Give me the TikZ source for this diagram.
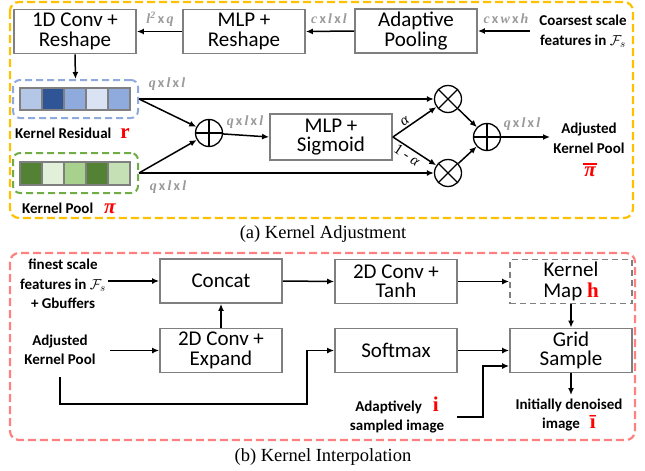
\documentclass[tikz,border=0pt]{standalone}
\usepackage{fontspec}
\setmainfont{Carlito}
\newfontfamily\serif{Liberation Serif}
\usetikzlibrary{arrows.meta,calc}

\definecolor{boxgray}{HTML}{7F7F7F}
\definecolor{labgray}{HTML}{9A9A9A}
\definecolor{frameorange}{HTML}{FFC000}
\definecolor{framered}{HTML}{FF8080}
\definecolor{resblue}{HTML}{8FAADC}
\definecolor{poolgreen}{HTML}{70AD47}
\definecolor{kbA}{HTML}{B4C7E7}
\definecolor{kbB}{HTML}{2F5597}
\definecolor{kbC}{HTML}{8FAADC}
\definecolor{kbD}{HTML}{DAE3F3}
\definecolor{kbE}{HTML}{8FAADC}
\definecolor{kgA}{HTML}{548235}
\definecolor{kgB}{HTML}{E2F0D9}
\definecolor{kgC}{HTML}{A9D18E}
\definecolor{kgD}{HTML}{548235}
\definecolor{kgE}{HTML}{C5E0B4}

% upright bold "x" between the dimension letters
\newcommand{\xx}{\hspace{2.2pt}{\rmfamily\upshape\bfseries x}\hspace{2.2pt}}
% bold red serif symbol
\newcommand{\redl}[1]{{\color{red}\serif\bfseries\fontsize{21}{21}\selectfont #1}}

\tikzset{
  box/.style={draw=boxgray, line width=1.8pt, fill=white, minimum width=122pt,
    minimum height=44pt, inner sep=0pt, align=center,
    font=\fontsize{21}{19.5}\selectfont},
  lbl/.style={font=\bfseries\fontsize{15}{19.5}\selectfont, align=center, inner sep=0pt},
  dim/.style={text=labgray, font=\serif\bfseries\itshape\fontsize{14}{14}\selectfont, inner sep=0pt},
  arr/.style={draw, line width=1.5pt, -{Latex[length=7pt,width=6pt]}},
  opbase/.style={circle, draw, line width=1.3pt, minimum size=27pt, inner sep=0pt},
  times/.style={opbase, path picture={
      \draw[line width=1.2pt] (path picture bounding box.north west) -- (path picture bounding box.south east);
      \draw[line width=1.2pt] (path picture bounding box.north east) -- (path picture bounding box.south west);}},
  plus/.style={opbase, path picture={
      \draw[line width=1.2pt] (path picture bounding box.north) -- (path picture bounding box.south);
      \draw[line width=1.2pt] (path picture bounding box.west) -- (path picture bounding box.east);}},
  kbox/.style={draw=#1, dashed, dash pattern=on 7pt off 4pt, line width=2pt,
    rounded corners=7pt, minimum width=125pt, inner sep=0pt},
  frame/.style={draw=#1, line width=2.2pt, dash pattern=on 8pt off 4pt, rounded corners=9pt},
  caption/.style={font=\serif\fontsize{18.5}{18.5}\selectfont, inner sep=0pt},
  greek/.style={font=\serif\fontsize{15}{15}\selectfont, inner sep=0pt}
}

\begin{document}
\begin{tikzpicture}[x=1pt,y=-1pt]
\useasboundingbox (0,0) rectangle (645,471);

% ---------------- (a) Kernel Adjustment ----------------
\draw[frame=frameorange] (10,2) rectangle (633,218);

\node[box] (conv1) at (75,31.5) {1D Conv +\\Reshape};
\node[box] (mlp1) at (244,31.5) {MLP +\\Reshape};
\node[box] (pool) at (416,31) {Adaptive\\Pooling};
\node[lbl, font=\bfseries\fontsize{15}{20}\selectfont] (coarse) at (583,31) {Coarsest scale\\features in $\mathcal{F}_s$};
\coordinate (coarseout) at (530,31);

\draw[arr] (coarseout) -- (pool.east);
\draw[arr] (pool.west) -- (mlp1.east);
\draw[arr] (mlp1.west) -- (conv1.east);
\node[dim] at (506,19) {c\xx w\xx h};
\node[dim] at (329,19) {c\xx l\xx l};
\node[dim] at (160,19) {l\textsuperscript{2}\xx q};

% kernel residual and kernel pool strips
\node[kbox=resblue, minimum height=38pt] (kr) at (75.5,99) {};
\node[kbox=poolgreen, minimum height=40pt] (kp) at (75.5,173) {};
\foreach \c [count=\i from 0] in {kbA,kbB,kbC,kbD,kbE}
  \draw[fill=\c, draw=boxgray, line width=1.3pt] (20+22*\i,88) rectangle (42+22*\i,110);
\foreach \c [count=\i from 0] in {kgA,kgB,kgC,kgD,kgE}
  \draw[fill=\c, draw=boxgray, line width=1.3pt] (20+22*\i,162) rectangle (42+22*\i,185);

\node[lbl, anchor=base west] (krlab) at (15,138) {Kernel Residual\hspace{9pt}\redl{r}};
\node[lbl, anchor=base west] (kplab) at (22,213) {Kernel Pool\hspace{11pt}\redl{\itshape π}};

\draw[arr] (conv1.south) -- (kr.north);

\node[plus] (pl1) at (209,133) {};
\node[box, minimum height=46pt] (sig) at (331,137) {MLP +\\Sigmoid};
\node[times] (mu1) at (448,99) {};
\node[times] (mu2) at (448,173) {};
\node[plus] (pl2) at (487,137) {};

\draw[arr] (kr.east) -- (mu1);
\draw[arr] (kr.east) -- (pl1);
\draw[arr] (kp.east) -- (pl1);
\draw[arr] (kp.east) -- (mu2);
\draw[arr] (pl1) -- (sig.west);
\draw[arr] (sig.east) -- node[greek, sloped, above=1.5pt, pos=0.35] {\itshape α} (mu1);
\draw[arr] (sig.east) -- node[greek, sloped, below=1.5pt, pos=0.42] {1 - {\itshape α}} (mu2);
\draw[arr] (mu1) -- (pl2);
\draw[arr] (mu2) -- (pl2);

\node[dim] at (167,84) {q\xx l\xx l};
\node[dim] at (168,187) {q\xx l\xx l};
\node[dim] at (245,122) {q\xx l\xx l};
\node[dim] at (522,124) {q\xx l\xx l};

\node[lbl, font=\bfseries\fontsize{15}{20}\selectfont] (akp) at (589,138) {Adjusted\\Kernel Pool};
\node[inner sep=0pt] (pibar) at (590,172) {\redl{\itshape π}};
\draw[red, line width=1.8pt] ([xshift=-1pt,yshift=2.5pt]pibar.north west) -- ([xshift=1pt,yshift=2.5pt]pibar.north east);
\coordinate (akpin) at (550,137);
\draw[arr] (pl2) -- (akpin);

\node[caption] (capa) at (323,234) {(a) Kernel Adjustment};

% ---------------- (b) Kernel Interpolation ----------------
\draw[frame=framered] (10,253) rectangle (635,440);

\node[lbl] (feat) at (63,284) {finest scale\\features in $\mathcal{F}_s$\\+ Gbuffers};
\node[lbl] (akp2) at (60,350) {Adjusted\\Kernel Pool};
\node[box] (concat) at (221,281) {Concat};
\node[box] (expand) at (221,350.5) {2D Conv +\\Expand};
\node[box] (tanh) at (396,281.5) {2D Conv +\\Tanh};
\node[box] (soft) at (396,350.5) {Softmax};
\node[box, dashed, dash pattern=on 6pt off 4pt, font=\fontsize{21}{21.5}\selectfont] (kmap) at (571,281.5) {Kernel\\Map \redl{h}};
\node[box] (grid) at (571,350.5) {Grid\\Sample};
\node[lbl, font=\bfseries\fontsize{15}{18.5}\selectfont] (asimg) at (397,415) {Adaptively\hspace{11pt}\redl{i}\\sampled image};
\node[lbl, font=\bfseries\fontsize{15}{18.5}\selectfont] (init) at (569,415) {Initially denoised\\image\hspace{10pt}\redl{ī}};

\coordinate (featout) at (108,281);
\coordinate (akpout) at (110,350.5);
\coordinate (akpdown) at (60,377);
\coordinate (asout) at (457,417);
\coordinate (initin) at (571,395);

\draw[arr] (featout) -- (concat.west);
\draw[arr] (akpout) -- (expand.west);
\draw[arr] (expand.north) -- (concat.south);
\draw[arr] (concat.east) -- (tanh.west);
\draw[arr] (tanh.east) -- (kmap.west);
\draw[arr] (kmap.south) -- (grid.north);
\draw[arr] (soft.east) -- (grid.west);
\draw[arr] (akpdown) |- (307,404) |- (soft.west);
\draw[arr] (asout) -- (483,417) |- ([yshift=-15.5pt]grid.west);
\draw[arr] (grid.south) -- (initin);

\node[caption] (capb) at (323,457) {(b) Kernel Interpolation};
\end{tikzpicture}
\end{document}
